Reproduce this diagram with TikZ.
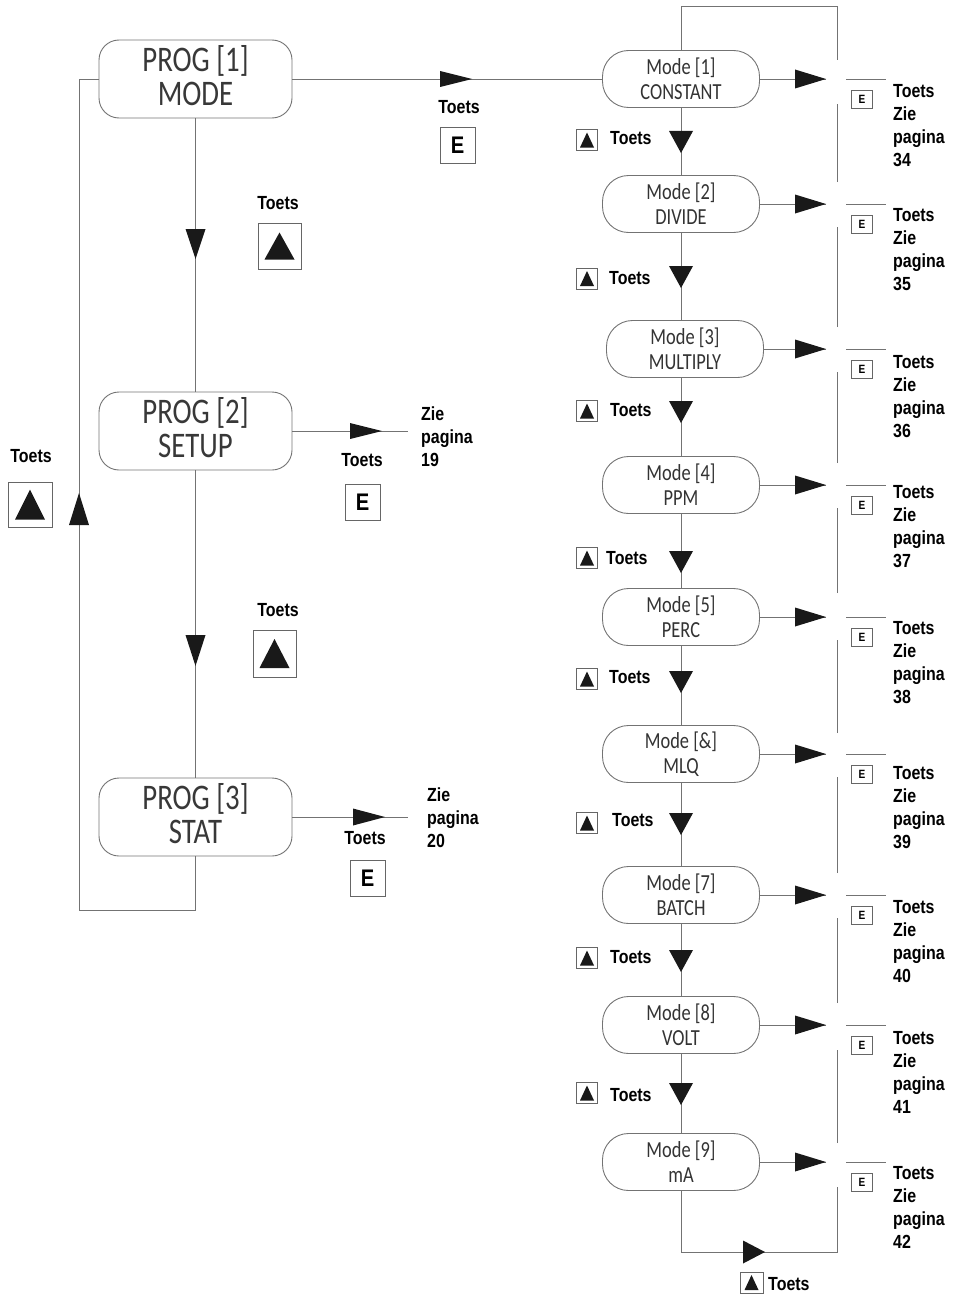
\documentclass[tikz,border=0pt]{standalone}
\usepackage{fontspec}
\setmainfont{Liberation Sans}
\newfontfamily\lblfont{Liberation Sans}[FakeStretch=0.84]
\newfontfamily\boxfont{Carlito}[FakeStretch=0.8]
\newcommand\lowstrut{\rule[-7pt]{0pt}{0pt}}
\begin{document}
\begin{tikzpicture}[x=1pt,y=-1pt,
  conn/.style={draw=black!55, line width=0.9pt},
  prog/.style={draw=black!55, line width=0.9pt, rounded corners=20pt, minimum width=193pt, minimum height=78pt, align=center, inner sep=0pt, text=black!78, font=\boxfont\fontsize{36}{34}\selectfont},
  mode/.style={draw=black!55, line width=0.9pt, rounded corners=26pt, minimum width=157pt, minimum height=57pt, align=center, inner sep=0pt, text=black!80, font=\boxfont\fontsize{23}{25}\selectfont},
  lbl/.style={font=\lblfont\bfseries\fontsize{19}{23}\selectfont, inner sep=0pt, align=left},
  ebig/.style={draw=black!60, line width=0.9pt, minimum width=35pt, minimum height=36pt, inner sep=0pt, font=\lblfont\bfseries\fontsize{24}{24}\selectfont},
  esmall/.style={draw=black!60, line width=0.7pt, minimum width=21pt, minimum height=18pt, inner sep=0pt, font=\lblfont\bfseries\fontsize{12}{12}\selectfont},
  kbox/.style={draw=black!60, line width=0.8pt, inner sep=0pt},
  pics/rtri/.style 2 args={code={\fill[black!90] (0,0) -- (-#1,-#2/2) -- (-#1,#2/2) -- cycle;}},
  pics/dtri/.style 2 args={code={\fill[black!90] (0,0) -- (-#1/2,-#2) -- (#1/2,-#2) -- cycle;}},
  pics/utri/.style 2 args={code={\fill[black!90] (0,0) -- (-#1/2,#2) -- (#1/2,#2) -- cycle;}},
  pics/keytri/.style 2 args={code={\fill[black!90] (-#1/2,#2/2) -- (#1/2,#2/2) -- (0,-#2/2) -- cycle;}}
]
\useasboundingbox (0,0) rectangle (958,1295);

% ---------- left column ----------
\node[prog] (P1) at (195.5,79) {PROG [1]\\MODE\lowstrut};
\node[prog] (P2) at (195.5,431) {PROG [2]\\SETUP\lowstrut};
\node[prog] (P3) at (195.5,817) {PROG [3]\\STAT\lowstrut};

\draw[conn] (P1) -- (P2);
\pic at (195.5,259) {dtri={20}{30}};
\draw[conn] (P2) -- (P3);
\pic at (195.5,666) {dtri={20}{31}};
\draw[conn] (P3.south) -- (195.5,910) -- (79,910) -- (79,79) -- (P1.west);
\pic at (79,493) {utri={20}{32}};

\node[lbl] (t1) at (278,203) {Toets};
\node[kbox, minimum width=43pt, minimum height=46pt] (k1) at (279.5,246) {};
\pic at (k1) {keytri={30}{27}};
\node[lbl] (t2) at (278,610) {Toets};
\node[kbox, minimum width=43pt, minimum height=47pt] (k2) at (274.5,653.5) {};
\pic at (k2) {keytri={30}{29}};
\node[lbl] (t3) at (31,456) {Toets};
\node[kbox, minimum width=44pt, minimum height=45pt] (k3) at (30,504.5) {};
\pic at (k3) {keytri={30}{30}};

% PROG 2 / 3 exits
\coordinate (z2) at (408,431);
\draw[conn] (P2.east) -- (z2);
\pic at (382,431) {rtri={32}{16}};
\node[lbl] (t4) at (362,460) {Toets};
\node[ebig] (e2) at (362.5,502) {E};
\node[lbl, anchor=north west] (zp2) at (421,407) {Zie\\pagina\\19};

\coordinate (z3) at (408,817);
\draw[conn] (P3.east) -- (z3);
\pic at (385,817) {rtri={32}{17}};
\node[lbl] (t5) at (365,838) {Toets};
\node[ebig] (e3) at (367.5,878) {E};
\node[lbl, anchor=north west] (zp3) at (427,788) {Zie\\pagina\\20};

% ---------- mode column ----------
\node[mode] (M1) at (681,79) {Mode [1]\\CONSTANT};
\node[mode] (M2) at (681,204) {Mode [2]\\DIVIDE};
\node[mode] (M3) at (685,349) {Mode [3]\\MULTIPLY};
\node[mode] (M4) at (681,485) {Mode [4]\\PPM};
\node[mode] (M5) at (681,617) {Mode [5]\\PERC};
\node[mode] (M6) at (681,754) {Mode [\&]\\MLQ};
\node[mode] (M7) at (681,895) {Mode [7]\\BATCH};
\node[mode] (M8) at (681,1025) {Mode [8]\\VOLT};
\node[mode] (M9) at (681,1162) {Mode [9]\\mA};

% PROG 1 -> Mode 1
\draw[conn] (P1) -- (M1);
\pic at (472,79) {rtri={32}{16}};
\node[lbl] (t0) at (459,107) {Toets};
\node[ebig] (e1) at (457.5,145) {E};

% vertical chain
\draw[conn] (M1) -- (M2);
\draw[conn] (M2.south) -- (M2.south |- M3.north);
\draw[conn] (M4.north |- M3.south) -- (M4.north);
\draw[conn] (M4) -- (M5);
\draw[conn] (M5) -- (M6);
\draw[conn] (M6) -- (M7);
\draw[conn] (M7) -- (M8);
\draw[conn] (M8) -- (M9);

\foreach \ty/\by/\tx/\txy [count=\i] in {153/140/610/138, 288/278.5/609/278, 423/411/610/410, 573/558/606/558, 693/679/609/677, 835/823/612/820, 972/958/610/957, 1105/1093/610/1095}{
  \pic at (681,\ty) {dtri={24}{22}};
  \node[kbox, minimum width=21pt, minimum height=21pt] (kd\i) at (587,\by) {};
  \pic at (kd\i) {keytri={14}{15}};
  \node[lbl, anchor=west] (td\i) at (\tx,\txy) {Toets};
}

% right exits of modes
\foreach \y/\ty/\p [count=\i] in {79/91/34, 204/215/35, 349/362/36, 485/492/37, 617/628/38, 754/773/39, 895/907/40, 1025/1038/41, 1162/1173/42}{
  \coordinate (a\i) at (826,\y);
  \draw[conn] (M\i.east) -- (a\i);
  \pic at (a\i) {rtri={31}{19}};
  \coordinate (f\i) at (846,\y);
  \coordinate (g\i) at (886,\y);
  \draw[conn] (f\i) -- (g\i);
  \node[esmall] (es\i) at (862,\y+20) {E};
  \node[lbl, anchor=north west] (tr\i) at (893,\ty-7) {Toets\\Zie\\pagina\\\p};
}

% loop back from Mode 9 to Mode 1
\draw[conn] (M9.south) -- (681,1252) -- (837,1252) -- (837,1187)
  (837,1143) -- (837,1050)
  (837,1003) -- (837,918)
  (837,873) -- (837,777)
  (837,733) -- (837,640)
  (837,593) -- (837,508)
  (837,463) -- (837,372)
  (837,327) -- (837,227)
  (837,182) -- (837,104)
  (837,60) -- (837,6) -- (681,6) -- (M1.north);
\pic at (765,1252) {rtri={22}{23}};
\node[kbox, minimum width=23pt, minimum height=21pt] (kb) at (751.5,1282.5) {};
\pic at (kb) {keytri={14}{15}};
\node[lbl, anchor=west] (tb) at (768,1284) {Toets};
\end{tikzpicture}
\end{document}
